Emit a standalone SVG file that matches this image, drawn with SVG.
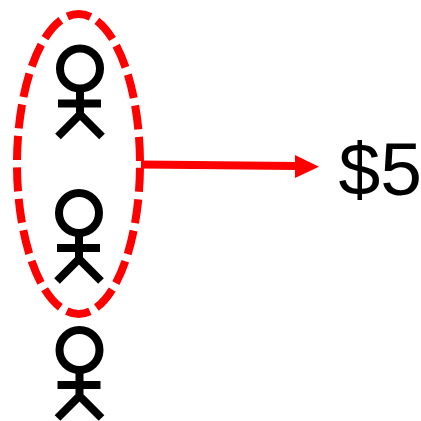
<svg xmlns="http://www.w3.org/2000/svg" width="421" height="421" viewBox="0 0 421 421">
<style>
.p{fill:none;stroke:#000;stroke-width:8}
.t{font-family:"Liberation Sans",Arial,sans-serif;font-size:75px;fill:#000}
</style>
<defs>
<g id="person">
<circle class="p" cx="0" cy="0" r="20"/>
<path class="p" d="M0 20V47M-22 35H21M-22 68L0 46L22 68"/>
</g>
</defs>
<rect width="421" height="421" fill="#fff"/>
<g id="person1"><use href="#person" x="80" y="68.500"/></g>
<g id="person2"><use href="#person" x="79" y="213"/></g>
<g id="person3"><use href="#person" x="79.500" y="350"/></g>
<g id="group"><ellipse cx="78.500" cy="164" rx="61.500" ry="150" fill="none" stroke="#f00" stroke-width="8" stroke-dasharray="24 7.550" stroke-dashoffset="27.750"/></g>
<g id="connectors"><path d="M141 164.500L296 166" fill="none" stroke="#f00" stroke-width="8"/><path d="M295 155L319 166.700L295 178Z" fill="#f00"/></g>
<g id="label"><text class="t" x="338.500" y="195">$5</text></g>
</svg>
